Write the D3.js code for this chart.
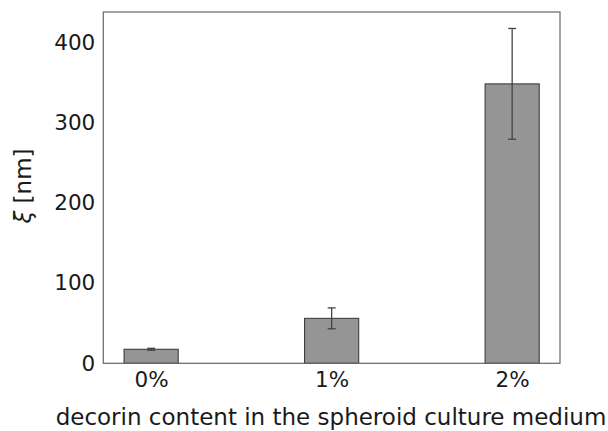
<!DOCTYPE html>
<html><head><meta charset="utf-8">
<script src="https://cdn.jsdelivr.net/npm/d3@7"></script>
<style>body{margin:0;background:#fff}svg{display:block}text{font-family:"DejaVu Sans",sans-serif;fill:#1a1a1a}</style>
</head><body>
<script>
const categories = ["0%", "1%", "2%"];
const values = [17.5, 56, 348];
const errors = [1.2, 13, 69];
const yTicks = [0, 100, 200, 300, 400];
const xLabel = "decorin content in the spheroid culture medium";
const yLabelSymbol = "ξ";
const yLabelUnit = " [nm]";

const W = 608, H = 431;
const m = {left: 103.3, right: 560, top: 12, bottom: 363.3};
const svg = d3.select("body").append("svg").attr("width", W).attr("height", H);

const x = d3.scaleLinear().domain([-0.265, 2.265]).range([m.left, m.right]);
const y = d3.scaleLinear().domain([0, 437.5]).range([m.bottom, m.top]);
const bw = x(0.3) - x(0);

svg.append("g").selectAll("rect").data(values).join("rect")
  .attr("x", (d, i) => x(i) - bw / 2).attr("y", d => y(d))
  .attr("width", bw).attr("height", d => y(0) - y(d))
  .attr("fill", "#959595").attr("stroke", "#333").attr("stroke-width", 1);

const eb = svg.append("g").attr("stroke", "#444").attr("stroke-width", 1.3);
values.forEach((v, i) => {
  eb.append("line").attr("x1", x(i)).attr("x2", x(i)).attr("y1", y(v - errors[i])).attr("y2", y(v + errors[i]));
  [v - errors[i], v + errors[i]].forEach(e => eb.append("line").attr("x1", x(i) - 4).attr("x2", x(i) + 4).attr("y1", y(e)).attr("y2", y(e)));
});

svg.append("rect").attr("x", m.left).attr("y", m.top).attr("width", m.right - m.left).attr("height", m.bottom - m.top)
  .attr("fill", "none").attr("stroke", "#666").attr("stroke-width", 1.2);

const ya = svg.append("g").attr("transform", `translate(${m.left},0)`)
  .call(d3.axisLeft(y).tickValues(yTicks).tickSize(0).tickPadding(8));
ya.select(".domain").remove();
ya.selectAll("text").style("font-size", "21.5px").attr("fill", "#1a1a1a");

const xa = svg.append("g").attr("transform", `translate(0,${m.bottom})`)
  .call(d3.axisBottom(x).tickValues([0, 1, 2]).tickFormat(i => categories[i]).tickSize(0).tickPadding(8));
xa.select(".domain").remove();
xa.selectAll("text").style("font-size", "21.5px").attr("fill", "#1a1a1a");

svg.append("text").attr("x", 331).attr("y", 425).attr("text-anchor", "middle")
  .style("font-size", "23px").text(xLabel);
const yl = svg.append("text").attr("transform", "translate(31,186) rotate(-90)").attr("text-anchor", "middle")
  .style("font-size", "23px");
yl.append("tspan").style("font-style", "italic").text(yLabelSymbol);
yl.append("tspan").text(yLabelUnit);
</script>
</body></html>
